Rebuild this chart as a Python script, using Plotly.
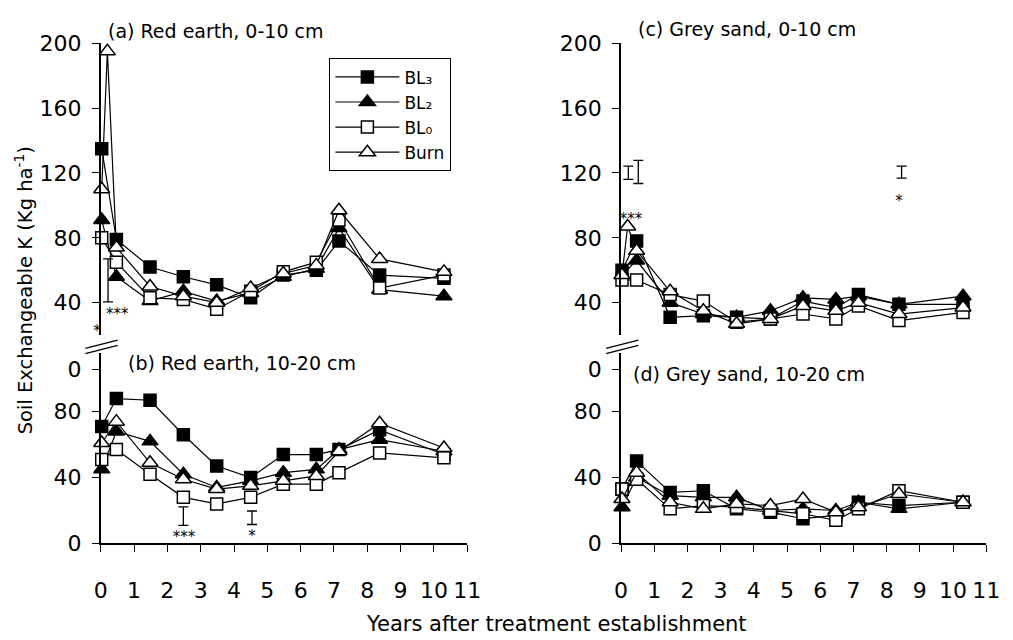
import plotly.graph_objects as go

# Sampling times (years after treatment establishment)
years = [0.03, 0.47, 1.48, 2.48, 3.48, 4.5, 5.48, 6.47, 7.15, 8.37, 10.3]
# Burn plots in the 0-10 cm layer have an extra sample just after burning
burn_years = [0.03, 0.2, 0.47, 1.48, 2.48, 3.48, 4.5, 5.48, 6.47, 7.15, 8.37, 10.3]

# (a) Red earth, 0-10 cm
red_top_bl3 = [135, 79, 62, 56, 51, 43, 57, 60, 78, 57, 55]
red_top_bl2 = [91, 56, 41, 47, 41, 46, 56, 61, 86, 48, 44]
red_top_bl0 = [80, 65, 43, 42, 36, 47, 59, 65, 91, 49, 57]
red_top_burn = [110, 195, 74, 50, 44, 40, 49, 58, 63, 97, 67, 59]

# (b) Red earth, 10-20 cm
red_sub_bl3 = [71, 88, 87, 66, 47, 40, 54, 54, 57, 69, 54]
red_sub_bl2 = [45, 68, 62, 42, 34, 38, 43, 45, 57, 63, 56]
red_sub_bl0 = [51, 57, 42, 28, 24, 28, 36, 36, 43, 55, 52]
red_sub_burn = [61, 74, 49, 39, 33, 35, 38, 41, 56, 73, 58]

# (c) Grey sand, 0-10 cm
grey_top_bl3 = [60, 78, 31, 32, 31, 30, 41, 37, 45, 39, 39]
grey_top_bl2 = [57, 66, 40, 33, 31, 35, 43, 42, 44, 39, 44]
grey_top_bl0 = [54, 54, 45, 41, 28, 30, 33, 30, 38, 29, 34]
grey_top_burn = [57, 87, 72, 47, 35, 27, 30, 38, 35, 40, 33, 37]

# (d) Grey sand, 10-20 cm
grey_sub_bl3 = [33, 50, 31, 32, 21, 19, 15, 17, 25, 23, 25]
grey_sub_bl2 = [22, 40, 29, 28, 28, 20, 21, 20, 25, 21, 25]
grey_sub_bl0 = [33, 39, 21, 23, 22, 20, 18, 14, 21, 32, 25]
grey_sub_burn = [27, 43, 25, 21, 24, 23, 27, 19, 22, 30, 25]

# LSD bars (centre, half-length) and significance labels per panel
lsd_a_x, lsd_a_y, lsd_a_half = [0.22], [53.75], [13.25]
sig_a_x, sig_a_y, sig_a_txt, sig_a_pos = [0.0, 0.5], [22, 32], ["*", "***"], ["middle left", "middle center"]
lsd_b_x, lsd_b_y, lsd_b_half = [2.48, 4.54], [16.6, 15.6], [5.6, 4.1]
sig_b_x, sig_b_y, sig_b_txt, sig_b_pos = [2.5, 4.54], [3, 4], ["***", "*"], ["middle center"] * 2
lsd_c_x, lsd_c_y, lsd_c_half = [0.22, 0.52, 8.45], [120.1, 120.65, 120.5], [4.1, 7.15, 3.7]
sig_c_x, sig_c_y, sig_c_txt, sig_c_pos = [0.3, 8.37], [91, 102], ["***", "*"], ["middle center"] * 2

x_ticks = list(range(0, 12))
top_ticks = [40, 80, 120, 160, 200]
sub_ticks = [0, 40, 80, 105.7]
sub_tick_text = ["0", "40", "80", "0"]

series_names = ["BL₃", "BL₂", "BL₀", "Burn"]
series_symbols = ["square", "triangle-up", "square", "triangle-up"]
series_fill = ["black", "black", "white", "white"]
series_size = [12, 14, 12, 14]

FONT = "DejaVu Sans"

panels = [
    ("x", "y", [red_top_bl3, red_top_bl2, red_top_bl0, red_top_burn], True),
    ("x2", "y2", [red_sub_bl3, red_sub_bl2, red_sub_bl0, red_sub_burn], False),
    ("x3", "y3", [grey_top_bl3, grey_top_bl2, grey_top_bl0, grey_top_burn], True),
    ("x4", "y4", [grey_sub_bl3, grey_sub_bl2, grey_sub_bl0, grey_sub_burn], False),
]

fig = go.Figure()
for pi, (xa, ya, values, topsoil) in enumerate(panels):
    for si in range(4):
        xs = burn_years if (si == 3 and topsoil) else years
        fig.add_trace(go.Scatter(
            x=xs, y=values[si], xaxis=xa, yaxis=ya,
            mode="lines+markers", name=series_names[si],
            legendgroup=series_names[si], showlegend=(pi == 0),
            line=dict(color="black", width=1.2),
            marker=dict(symbol=series_symbols[si], size=series_size[si],
                        color=series_fill[si],
                        line=dict(color="black", width=1.5)),
            cliponaxis=False,
        ))

def add_lsd(xa, ya, xs, ys, half):
    fig.add_trace(go.Scatter(
        x=xs, y=ys, xaxis=xa, yaxis=ya, mode="markers", showlegend=False,
        marker=dict(size=1, color="rgba(0,0,0,0)"),
        error_y=dict(type="data", array=half, symmetric=True,
                     color="black", thickness=1.3, width=5),
        cliponaxis=False, hoverinfo="skip",
    ))

def add_sig(xa, ya, xs, ys, txt, pos):
    fig.add_trace(go.Scatter(
        x=xs, y=ys, xaxis=xa, yaxis=ya, mode="text", text=txt,
        textposition=pos,
        textfont=dict(family=FONT, size=15, color="black"),
        showlegend=False, cliponaxis=False, hoverinfo="skip",
    ))

add_lsd("x", "y", lsd_a_x, lsd_a_y, lsd_a_half)
add_sig("x", "y", sig_a_x, sig_a_y, sig_a_txt, sig_a_pos)
add_lsd("x2", "y2", lsd_b_x, lsd_b_y, lsd_b_half)
add_sig("x2", "y2", sig_b_x, sig_b_y, sig_b_txt, sig_b_pos)
add_lsd("x3", "y3", lsd_c_x, lsd_c_y, lsd_c_half)
add_sig("x3", "y3", sig_c_x, sig_c_y, sig_c_txt, sig_c_pos)

W, H = 1013, 640
left_dom = [95.7 / W, 470 / W]
right_dom = [627 / W, 1000 / W]
top_dom = [(H - 336.25) / H, (H - 32.5) / H]
sub_dom = [(H - 553) / H, (H - 354.35) / H]

tick_font = dict(family=FONT, size=22, color="black")

def hidden_x(domain, anchor):
    return dict(domain=domain, anchor=anchor, range=[0, 11], visible=False,
                showgrid=False, zeroline=False)

def shown_x(domain, anchor):
    return dict(domain=domain, anchor=anchor, range=[0, 11], tickvals=x_ticks,
                showline=True, linecolor="black", linewidth=1.5,
                ticks="outside", ticklen=7, tickwidth=1.2, tickcolor="black",
                ticklabelstandoff=19, tickfont=tick_font,
                showgrid=False, zeroline=False)

def y_axis(domain, anchor, rng, tv, tt=None):
    d = dict(domain=domain, anchor=anchor, range=rng, tickvals=tv,
             showline=True, linecolor="black", linewidth=1.5,
             ticks="outside", ticklen=7, tickwidth=1.2, tickcolor="black",
             ticklabelstandoff=6, tickfont=tick_font,
             showgrid=False, zeroline=False)
    if tt is not None:
        d["ticktext"] = tt
    return d

fig.update_layout(
    width=W, height=H, margin=dict(l=0, r=0, t=0, b=0),
    paper_bgcolor="white", plot_bgcolor="white",
    font=dict(family=FONT, color="black"),
    xaxis=hidden_x(left_dom, "y"),
    yaxis=y_axis(top_dom, "x", [20, 200], top_ticks),
    xaxis2=shown_x(left_dom, "y2"),
    yaxis2=y_axis(sub_dom, "x2", [0, 116], sub_ticks, sub_tick_text),
    xaxis3=hidden_x(right_dom, "y3"),
    yaxis3=y_axis(top_dom, "x3", [20, 200], top_ticks),
    xaxis4=shown_x(right_dom, "y4"),
    yaxis4=y_axis(sub_dom, "x4", [0, 116], sub_ticks, sub_tick_text),
    showlegend=True,
    legend=dict(x=329 / W, y=(H - 48) / H, xanchor="left", yanchor="top",
                bordercolor="black", borderwidth=1.2, bgcolor="white",
                font=dict(family=FONT, size=17, color="black"),
                tracegroupgap=0, itemwidth=64),
)

# Panel titles
titles = [
    ("(a) Red earth, 0-10 cm", 101, 20),
    ("(b) Red earth, 10-20 cm", 122, 365),
    ("(c) Grey sand, 0-10 cm", 642, 18),
    ("(d) Grey sand, 10-20 cm", 637, 377),
]
for txt, px, py in titles:
    fig.add_annotation(text=txt, x=px / W, y=(H - py) / H, xref="paper", yref="paper",
                       xanchor="left", yanchor="middle", showarrow=False,
                       font=dict(family=FONT, size=19, color="black"))

fig.add_annotation(text="Soil Exchangeable K (Kg ha<sup>-1</sup>)", x=17 / W, y=(H - 290) / H,
                   xref="paper", yref="paper", xanchor="center", yanchor="middle",
                   textangle=-90, showarrow=False,
                   font=dict(family=FONT, size=19.5, color="black"))
fig.add_annotation(text="Years after treatment establishment", x=561 / W, y=(H - 637) / H,
                   xref="paper", yref="paper", xanchor="center", yanchor="middle",
                   showarrow=False,
                   font=dict(family=FONT, size=21, color="black"))

# Axis break marks between the upper and lower panels
for bx in (80, 611.7):
    for dy in (0, 5.5):
        fig.add_shape(type="line", xref="paper", yref="paper",
                      x0=bx / W, y0=(H - (350 + dy)) / H,
                      x1=(bx + 33) / W, y1=(H - (341.5 + dy)) / H,
                      line=dict(color="black", width=1.3))

fig.write_html("out.html")
